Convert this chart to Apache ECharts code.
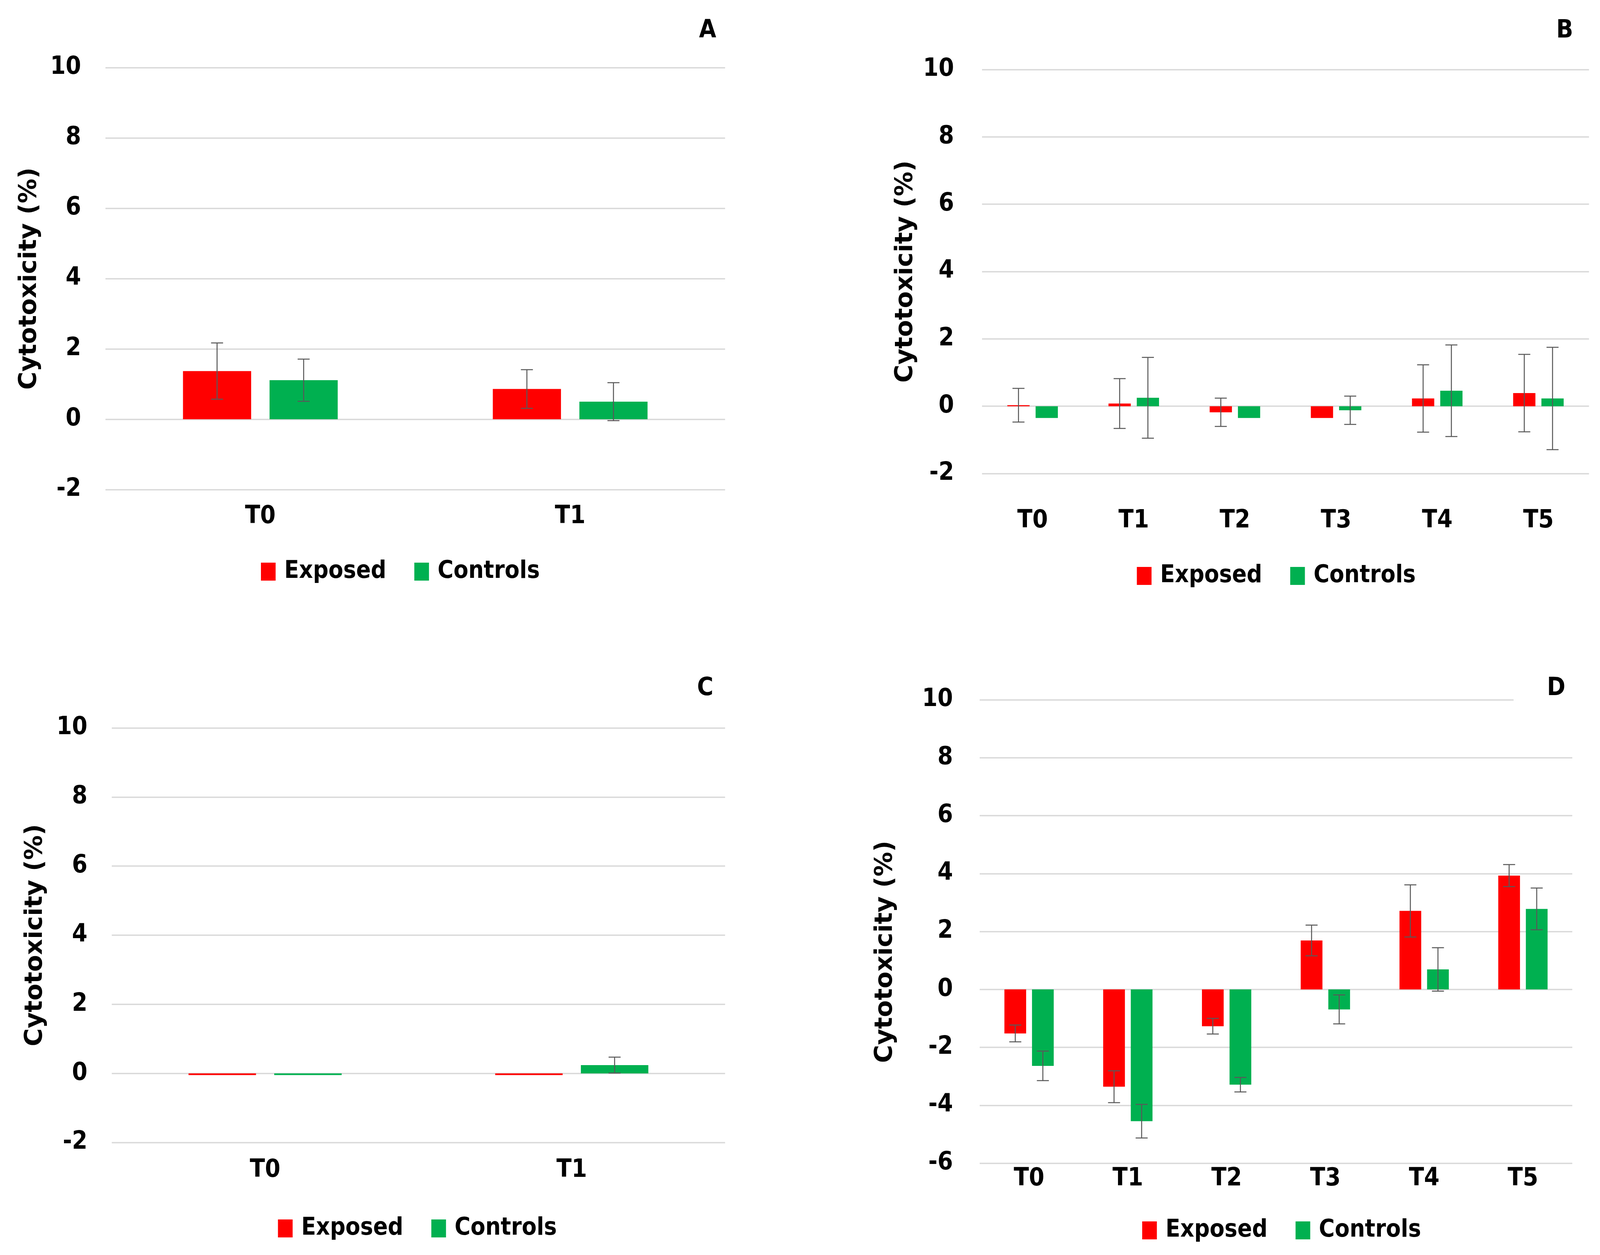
<!DOCTYPE html>
<html><head><meta charset="utf-8">
<script src="https://cdn.jsdelivr.net/npm/echarts@6/dist/echarts.min.js"></script>
<style>html,body{margin:0;padding:0;background:#fff;overflow:hidden}#c{width:100vw;height:100vh}</style>
</head><body><div id="c"></div><script>
// ---- data ----
const catsA = ['T0', 'T1'];
const exposedA = [1.37, 0.86];
const exposedErrA = [0.80, 0.55];
const controlsA = [1.11, 0.50];
const controlsErrA = [0.60, 0.54];

const catsB = ['T0', 'T1', 'T2', 'T3', 'T4', 'T5'];
const exposedB = [0.03, 0.08, -0.18, -0.35, 0.23, 0.39];
const exposedErrB = [0.50, 0.74, 0.42, null, 1.00, 1.15];
const controlsB = [-0.35, 0.25, -0.35, -0.12, 0.46, 0.23];
const controlsErrB = [null, 1.20, null, 0.42, 1.36, 1.52];

const catsC = ['T0', 'T1'];
const exposedC = [-0.05, -0.05];
const exposedErrC = [null, null];
const controlsC = [-0.05, 0.24];
const controlsErrC = [null, 0.23];

const catsD = ['T0', 'T1', 'T2', 'T3', 'T4', 'T5'];
const exposedD = [-1.52, -3.36, -1.27, 1.69, 2.71, 3.93];
const exposedErrD = [0.29, 0.55, 0.27, 0.53, 0.90, 0.38];
const controlsD = [-2.64, -4.55, -3.29, -0.69, 0.69, 2.78];
const controlsErrD = [0.51, 0.58, 0.25, 0.50, 0.75, 0.72];

const yTicksAB = {min: -2, max: 10, interval: 2};
const yTicksD = {min: -6, max: 10, interval: 2};
const panelLabels = ['A', 'B', 'C', 'D'];
const legendNames = ['Exposed', 'Controls'];

// ---- style ----
const RED = '#FF0000', GREEN = '#00B050';
const FONT = "'DejaVu Sans Condensed', 'Liberation Sans Narrow', 'DejaVu Sans', sans-serif";
const TITLE_FONT = "'DejaVu Sans', Verdana, sans-serif";
const BAR_FRAC = 0.22, GAP_FRAC = 0.27;

const el = document.getElementById('c');
const chart = echarts.init(el);
const SX = chart.getWidth() / 4795, SY = chart.getHeight() / 3212, S = Math.min(SX, SY);
const X = v => v * SX, Y = v => v * SY, F = v => v * S;
const NAME_SIZE = 63 * SY;   // rotated text: its length runs vertically

const panels = [
  {cats: catsA, e: exposedA, ee: exposedErrA, c: controlsA, ce: controlsErrA, ticks: yTicksAB,
   grid: {left: 316, top: 173, width: 1857, height: 1080}, labelMargin: 73, xMargin: 38, nameCenter: 228, namePad: 0,
   legend: {left: 782, top: 1432}, title: {left: 1992, top: 40, pad: [8, 110, 58, 103]}},
  {cats: catsB, e: exposedB, ee: exposedErrB, c: controlsB, ce: controlsErrB, ticks: yTicksAB,
   grid: {left: 2943, top: 178, width: 1819, height: 1034}, labelMargin: 84, xMargin: 90, nameCenter: 229, namePad: 0,
   legend: {left: 3407, top: 1443}, title: {left: 4563, top: 40, pad: [8, 80, 64, 101]}},
  {cats: catsC, e: exposedC, ee: exposedErrC, c: controlsC, ce: controlsErrC, ticks: yTicksAB,
   grid: {left: 335, top: 1863, width: 1838, height: 1061}, labelMargin: 73, xMargin: 40, nameCenter: 229, namePad: 0,
   legend: {left: 833, top: 3113}, title: {left: 1982, top: 1720, pad: [11, 110, 65, 107]}},
  {cats: catsD, e: exposedD, ee: exposedErrD, c: controlsD, ce: controlsErrD, ticks: yTicksD,
   grid: {left: 2936, top: 1791, width: 1776, height: 1186}, labelMargin: 80, xMargin: 9, nameCenter: 283, namePad: 104,
   legend: {left: 3423, top: 3118}, title: {left: 4536, top: 1720, pad: [11, 110, 0, 100]}}
];

function errItem(side) {
  return function (params, api) {
    const err = api.value(2);
    if (err === null || err === undefined || isNaN(err) || err === 0) return;
    const i = api.value(0), v = api.value(1);
    const catW = api.size([1, 0])[0];
    const bw = catW * BAR_FRAC, gap = bw * GAP_FRAC;
    const off = side * (bw + gap) / 2;
    const t = api.coord([i, v + err]);
    const b = api.coord([i, v - err]);
    const x = t[0] + off;
    const cap = X(18);
    const st = {stroke: '#595959', lineWidth: F(3)};
    return {type: 'group', children: [
      {type: 'line', shape: {x1: x, y1: t[1], x2: x, y2: b[1]}, style: st},
      {type: 'line', shape: {x1: x - cap, y1: t[1], x2: x + cap, y2: t[1]}, style: st},
      {type: 'line', shape: {x1: x - cap, y1: b[1], x2: x + cap, y2: b[1]}, style: st}
    ]};
  };
}

const option = {
  animation: false,
  backgroundColor: '#fff',
  grid: [], xAxis: [], yAxis: [], series: [], legend: [], title: []
};

panels.forEach((p, k) => {
  option.grid.push({containLabel: false, left: X(p.grid.left), top: Y(p.grid.top),
                    width: X(p.grid.width), height: Y(p.grid.height)});
  option.xAxis.push({
    type: 'category', gridIndex: k, data: p.cats, position: 'bottom',
    axisLine: {show: false}, axisTick: {show: false}, splitLine: {show: false},
    axisLabel: {margin: Y(p.xMargin), color: '#000', fontFamily: FONT, fontWeight: 'bold', fontSize: F(74)}
  });
  option.yAxis.push({
    type: 'value', gridIndex: k, min: p.ticks.min, max: p.ticks.max, interval: p.ticks.interval,
    axisLine: {show: false}, axisTick: {show: false},
    splitLine: {show: true, lineStyle: {color: '#D9D9D9', width: F(4)}},
    axisLabel: {margin: X(p.labelMargin), color: '#000', fontFamily: FONT, fontWeight: 'bold', fontSize: F(74)},
    name: 'Cytotoxicity (%)', nameLocation: 'middle', nameRotate: 90,
    nameGap: X(p.nameCenter) - NAME_SIZE / 2,
    nameTextStyle: {color: '#000', fontFamily: TITLE_FONT, fontWeight: 'bold', fontSize: NAME_SIZE,
                    padding: [0, Y(p.namePad), 0, 0]}
  });
  option.series.push({
    name: 'Exposed', type: 'bar', xAxisIndex: k, yAxisIndex: k, data: p.e,
    barWidth: (BAR_FRAC * 100) + '%', barGap: (GAP_FRAC * 100) + '%',
    itemStyle: {color: RED}
  });
  option.series.push({
    name: 'Controls', type: 'bar', xAxisIndex: k, yAxisIndex: k, data: p.c,
    barWidth: (BAR_FRAC * 100) + '%', barGap: (GAP_FRAC * 100) + '%',
    itemStyle: {color: GREEN}
  });
  option.series.push({
    name: 'errE' + k, type: 'custom', xAxisIndex: k, yAxisIndex: k, z: 5,
    renderItem: errItem(-1), encode: {x: 0, y: 1},
    data: p.e.map((v, i) => [i, v, p.ee[i]])
  });
  option.series.push({
    name: 'errC' + k, type: 'custom', xAxisIndex: k, yAxisIndex: k, z: 5,
    renderItem: errItem(1), encode: {x: 0, y: 1},
    data: p.c.map((v, i) => [i, v, p.ce[i]])
  });
  option.legend.push({
    data: legendNames, left: X(p.legend.left), top: Y(p.legend.top), padding: 0,
    icon: 'rect', itemWidth: F(44), itemHeight: Y(46), itemGap: X(84),
    textStyle: {color: '#000', fontFamily: FONT, fontWeight: 'bold', fontSize: F(72), padding: [0, 0, 0, X(20)]}
  });
  option.title.push({
    text: panelLabels[k], left: X(p.title.left), top: Y(p.title.top),
    padding: [Y(p.title.pad[0]), X(p.title.pad[1]), Y(p.title.pad[2]), X(p.title.pad[3])],
    backgroundColor: '#fff',
    textStyle: {color: '#000', fontFamily: FONT, fontWeight: 'bold', fontSize: F(74)}
  });
});

chart.setOption(option);
</script></body></html>
